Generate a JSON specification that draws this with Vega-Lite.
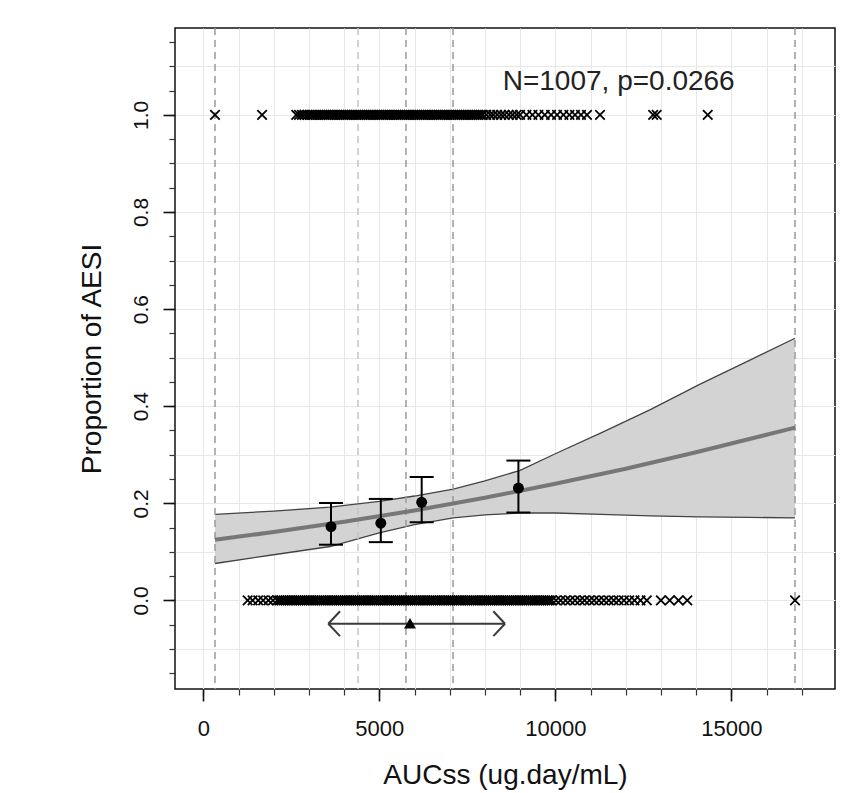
{
  "$schema": "https://vega.github.io/schema/vega-lite/v6.json",
  "width": 660,
  "height": 661,
  "autosize": {"type": "none"},
  "padding": {"left": 175, "top": 28, "right": 6, "bottom": 104},
  "background": "white",
  "config": {
    "view": {"stroke": "#111", "strokeWidth": 1.5},
    "font": "Liberation Sans",
    "axis": {"labelFont": "Liberation Sans", "titleFont": "Liberation Sans", "labelColor": "#111", "titleColor": "#111", "titleFontWeight": "normal", "tickColor": "#222", "domain": false, "labelFlush": false, "labelOverlap": false, "labelBound": false}
  },
  "datasets": {
    "band": [
      {"x": 332, "lo": 0.076, "hi": 0.177},
      {"x": 2000, "lo": 0.094, "hi": 0.184},
      {"x": 3600, "lo": 0.111, "hi": 0.192},
      {"x": 5000, "lo": 0.139, "hi": 0.204},
      {"x": 6000, "lo": 0.156, "hi": 0.215},
      {"x": 7100, "lo": 0.170, "hi": 0.229},
      {"x": 8000, "lo": 0.176, "hi": 0.246},
      {"x": 9000, "lo": 0.180, "hi": 0.268},
      {"x": 10000, "lo": 0.180, "hi": 0.302},
      {"x": 11300, "lo": 0.177, "hi": 0.345},
      {"x": 12700, "lo": 0.174, "hi": 0.393},
      {"x": 14100, "lo": 0.172, "hi": 0.445},
      {"x": 15500, "lo": 0.171, "hi": 0.494},
      {"x": 16810, "lo": 0.170, "hi": 0.540}
    ],
    "fit": [
      {"x": 332, "p": 0.125},
      {"x": 2000, "p": 0.1408},
      {"x": 4000, "p": 0.1618},
      {"x": 6000, "p": 0.1853},
      {"x": 8000, "p": 0.2114},
      {"x": 10000, "p": 0.2401},
      {"x": 12000, "p": 0.2713},
      {"x": 14000, "p": 0.3050},
      {"x": 16810, "p": 0.3559}
    ],
    "ref": [
      {"x": 332, "kind": "min"},
      {"x": 4395, "kind": "q1"},
      {"x": 5758, "kind": "median"},
      {"x": 7094, "kind": "q3"},
      {"x": 16810, "kind": "max"}
    ],
    "bins": [
      {"x": 3628, "y": 0.152, "lo": 0.1147, "hi": 0.2006},
      {"x": 5043, "y": 0.159, "lo": 0.120, "hi": 0.209},
      {"x": 6204, "y": 0.202, "lo": 0.161, "hi": 0.254},
      {"x": 8952, "y": 0.2315, "lo": 0.181, "hi": 0.288}
    ],
    "arrow": [
      {"x": 3551, "y": -0.048, "x2": 8571, "y2": -0.048},
      {"x": 3551, "y": -0.048, "x2": 3884, "y2": -0.0223},
      {"x": 3551, "y": -0.048, "x2": 3884, "y2": -0.0737},
      {"x": 8571, "y": -0.048, "x2": 8239, "y2": -0.0223},
      {"x": 8571, "y": -0.048, "x2": 8239, "y2": -0.0737}
    ],
    "tri": [{"x": 5872, "y": -0.047}],
    "note": [{"x": 8506, "y": 1.052, "label": "N=1007, p=0.0266"}],
    "strip": [
      {"x": 332, "y": 1}, {"x": 1670, "y": 1},
      {"x": 2640, "y": 1}, {"x": 2720, "y": 1}, {"x": 2800, "y": 1}, {"x": 2880, "y": 1}, {"x": 2960, "y": 1}, {"x": 3020, "y": 1}, {"x": 3080, "y": 1}, {"x": 3140, "y": 1}, {"x": 3200, "y": 1}, {"x": 3260, "y": 1}, {"x": 3320, "y": 1}, {"x": 3380, "y": 1}, {"x": 3440, "y": 1}, {"x": 3500, "y": 1}, {"x": 3560, "y": 1}, {"x": 3620, "y": 1}, {"x": 3680, "y": 1}, {"x": 3740, "y": 1}, {"x": 3800, "y": 1}, {"x": 3860, "y": 1}, {"x": 3920, "y": 1}, {"x": 3980, "y": 1}, {"x": 4040, "y": 1}, {"x": 4100, "y": 1}, {"x": 4160, "y": 1}, {"x": 4220, "y": 1}, {"x": 4280, "y": 1}, {"x": 4340, "y": 1}, {"x": 4400, "y": 1}, {"x": 4460, "y": 1}, {"x": 4520, "y": 1}, {"x": 4580, "y": 1}, {"x": 4640, "y": 1}, {"x": 4700, "y": 1}, {"x": 4760, "y": 1}, {"x": 4820, "y": 1}, {"x": 4880, "y": 1}, {"x": 4940, "y": 1}, {"x": 5000, "y": 1}, {"x": 5060, "y": 1}, {"x": 5120, "y": 1}, {"x": 5180, "y": 1}, {"x": 5240, "y": 1}, {"x": 5300, "y": 1}, {"x": 5360, "y": 1}, {"x": 5420, "y": 1}, {"x": 5480, "y": 1}, {"x": 5540, "y": 1}, {"x": 5600, "y": 1}, {"x": 5660, "y": 1}, {"x": 5720, "y": 1}, {"x": 5780, "y": 1}, {"x": 5840, "y": 1}, {"x": 5900, "y": 1}, {"x": 5960, "y": 1}, {"x": 6020, "y": 1}, {"x": 6080, "y": 1}, {"x": 6140, "y": 1}, {"x": 6200, "y": 1}, {"x": 6260, "y": 1}, {"x": 6320, "y": 1}, {"x": 6380, "y": 1}, {"x": 6440, "y": 1}, {"x": 6500, "y": 1}, {"x": 6560, "y": 1}, {"x": 6620, "y": 1}, {"x": 6680, "y": 1}, {"x": 6740, "y": 1}, {"x": 6800, "y": 1}, {"x": 6860, "y": 1}, {"x": 6920, "y": 1}, {"x": 6980, "y": 1}, {"x": 7040, "y": 1}, {"x": 7100, "y": 1}, {"x": 7160, "y": 1}, {"x": 7220, "y": 1}, {"x": 7280, "y": 1}, {"x": 7340, "y": 1}, {"x": 7400, "y": 1}, {"x": 7460, "y": 1}, {"x": 7520, "y": 1}, {"x": 7580, "y": 1}, {"x": 7640, "y": 1}, {"x": 7700, "y": 1}, {"x": 7760, "y": 1}, {"x": 7820, "y": 1}, {"x": 7880, "y": 1}, {"x": 7940, "y": 1},
      {"x": 8040, "y": 1}, {"x": 8150, "y": 1}, {"x": 8240, "y": 1}, {"x": 8350, "y": 1}, {"x": 8460, "y": 1}, {"x": 8560, "y": 1}, {"x": 8680, "y": 1}, {"x": 8790, "y": 1}, {"x": 8900, "y": 1}, {"x": 9000, "y": 1},
      {"x": 9180, "y": 1}, {"x": 9350, "y": 1}, {"x": 9520, "y": 1}, {"x": 9700, "y": 1}, {"x": 9880, "y": 1}, {"x": 10050, "y": 1}, {"x": 10230, "y": 1}, {"x": 10400, "y": 1}, {"x": 10560, "y": 1}, {"x": 10730, "y": 1}, {"x": 10900, "y": 1},
      {"x": 11270, "y": 1}, {"x": 12780, "y": 1}, {"x": 12880, "y": 1}, {"x": 14330, "y": 1},
      {"x": 1260, "y": 0}, {"x": 1400, "y": 0}, {"x": 1560, "y": 0}, {"x": 1700, "y": 0}, {"x": 1850, "y": 0}, {"x": 1980, "y": 0},
      {"x": 2100, "y": 0}, {"x": 2160, "y": 0}, {"x": 2220, "y": 0}, {"x": 2280, "y": 0}, {"x": 2340, "y": 0}, {"x": 2400, "y": 0}, {"x": 2460, "y": 0}, {"x": 2520, "y": 0}, {"x": 2580, "y": 0}, {"x": 2640, "y": 0}, {"x": 2700, "y": 0}, {"x": 2760, "y": 0}, {"x": 2820, "y": 0}, {"x": 2880, "y": 0}, {"x": 2940, "y": 0}, {"x": 3000, "y": 0}, {"x": 3060, "y": 0}, {"x": 3120, "y": 0}, {"x": 3180, "y": 0}, {"x": 3240, "y": 0}, {"x": 3300, "y": 0}, {"x": 3360, "y": 0}, {"x": 3420, "y": 0}, {"x": 3480, "y": 0}, {"x": 3540, "y": 0}, {"x": 3600, "y": 0}, {"x": 3660, "y": 0}, {"x": 3720, "y": 0}, {"x": 3780, "y": 0}, {"x": 3840, "y": 0}, {"x": 3900, "y": 0}, {"x": 3960, "y": 0}, {"x": 4020, "y": 0}, {"x": 4080, "y": 0}, {"x": 4140, "y": 0}, {"x": 4200, "y": 0}, {"x": 4260, "y": 0}, {"x": 4320, "y": 0}, {"x": 4380, "y": 0}, {"x": 4440, "y": 0}, {"x": 4500, "y": 0}, {"x": 4560, "y": 0}, {"x": 4620, "y": 0}, {"x": 4680, "y": 0}, {"x": 4740, "y": 0}, {"x": 4800, "y": 0}, {"x": 4860, "y": 0}, {"x": 4920, "y": 0}, {"x": 4980, "y": 0}, {"x": 5040, "y": 0}, {"x": 5100, "y": 0}, {"x": 5160, "y": 0}, {"x": 5220, "y": 0}, {"x": 5280, "y": 0}, {"x": 5340, "y": 0}, {"x": 5400, "y": 0}, {"x": 5460, "y": 0}, {"x": 5520, "y": 0}, {"x": 5580, "y": 0}, {"x": 5640, "y": 0}, {"x": 5700, "y": 0}, {"x": 5760, "y": 0}, {"x": 5820, "y": 0}, {"x": 5880, "y": 0}, {"x": 5940, "y": 0}, {"x": 6000, "y": 0}, {"x": 6060, "y": 0}, {"x": 6120, "y": 0}, {"x": 6180, "y": 0}, {"x": 6240, "y": 0}, {"x": 6300, "y": 0}, {"x": 6360, "y": 0}, {"x": 6420, "y": 0}, {"x": 6480, "y": 0}, {"x": 6540, "y": 0}, {"x": 6600, "y": 0}, {"x": 6660, "y": 0}, {"x": 6720, "y": 0}, {"x": 6780, "y": 0}, {"x": 6840, "y": 0}, {"x": 6900, "y": 0}, {"x": 6960, "y": 0}, {"x": 7020, "y": 0}, {"x": 7080, "y": 0}, {"x": 7140, "y": 0}, {"x": 7200, "y": 0}, {"x": 7260, "y": 0}, {"x": 7320, "y": 0}, {"x": 7380, "y": 0}, {"x": 7440, "y": 0}, {"x": 7500, "y": 0}, {"x": 7560, "y": 0}, {"x": 7620, "y": 0}, {"x": 7680, "y": 0}, {"x": 7740, "y": 0}, {"x": 7800, "y": 0}, {"x": 7860, "y": 0}, {"x": 7920, "y": 0}, {"x": 7980, "y": 0}, {"x": 8040, "y": 0}, {"x": 8100, "y": 0}, {"x": 8160, "y": 0}, {"x": 8220, "y": 0}, {"x": 8280, "y": 0}, {"x": 8340, "y": 0}, {"x": 8400, "y": 0}, {"x": 8460, "y": 0}, {"x": 8520, "y": 0}, {"x": 8580, "y": 0}, {"x": 8640, "y": 0}, {"x": 8700, "y": 0}, {"x": 8760, "y": 0}, {"x": 8820, "y": 0}, {"x": 8880, "y": 0}, {"x": 8940, "y": 0}, {"x": 9000, "y": 0}, {"x": 9060, "y": 0}, {"x": 9120, "y": 0}, {"x": 9180, "y": 0}, {"x": 9240, "y": 0}, {"x": 9300, "y": 0}, {"x": 9360, "y": 0}, {"x": 9420, "y": 0}, {"x": 9480, "y": 0}, {"x": 9540, "y": 0}, {"x": 9600, "y": 0}, {"x": 9660, "y": 0}, {"x": 9720, "y": 0}, {"x": 9780, "y": 0}, {"x": 9840, "y": 0}, {"x": 9900, "y": 0},
      {"x": 10020, "y": 0}, {"x": 10150, "y": 0}, {"x": 10290, "y": 0}, {"x": 10420, "y": 0}, {"x": 10560, "y": 0}, {"x": 10700, "y": 0}, {"x": 10830, "y": 0}, {"x": 10970, "y": 0}, {"x": 11100, "y": 0}, {"x": 11240, "y": 0}, {"x": 11380, "y": 0}, {"x": 11520, "y": 0}, {"x": 11660, "y": 0}, {"x": 11800, "y": 0}, {"x": 11950, "y": 0}, {"x": 12100, "y": 0}, {"x": 12250, "y": 0}, {"x": 12420, "y": 0}, {"x": 12600, "y": 0},
      {"x": 13000, "y": 0}, {"x": 13250, "y": 0}, {"x": 13500, "y": 0}, {"x": 13750, "y": 0},
      {"x": 16810, "y": 0}
    ]
  },
  "layer": [
    {
      "data": {"name": "band"},
      "mark": {"type": "area", "color": "#d3d3d3", "opacity": 1},
      "encoding": {
        "x": {"field": "x", "type": "quantitative", "scale": {"domain": [-804, 17946], "nice": false, "zero": false},
          "axis": {"orient": "bottom", "values": [0, 1000, 2000, 3000, 4000, 5000, 6000, 7000, 8000, 9000, 10000, 11000, 12000, 13000, 14000, 15000, 16000, 17000], "labels": false, "ticks": true, "tickSize": 6, "tickWidth": 1.2, "tickColor": "#333", "grid": true, "gridColor": "#e8e8e8", "gridWidth": 1, "title": null}},
        "y": {"field": "lo", "type": "quantitative", "scale": {"domain": [-0.1825, 1.179], "nice": false, "zero": false},
          "axis": {"orient": "left", "values": [-0.1, 0, 0.1, 0.2, 0.3, 0.4, 0.5, 0.6, 0.7, 0.8, 0.9, 1.0, 1.1], "labels": false, "ticks": false, "grid": true, "gridColor": "#e8e8e8", "gridWidth": 1, "title": null}},
        "y2": {"field": "hi"}
      }
    },
    {
      "data": {"name": "band"},
      "mark": {"type": "line", "color": "#444", "strokeWidth": 1.3},
      "encoding": {
        "x": {"field": "x", "type": "quantitative", "scale": {"domain": [-804, 17946], "nice": false, "zero": false}, "axis": null},
        "y": {"field": "hi", "type": "quantitative", "scale": {"domain": [-0.1825, 1.179], "nice": false, "zero": false}, "axis": null}
      }
    },
    {
      "data": {"name": "band"},
      "mark": {"type": "line", "color": "#444", "strokeWidth": 1.3},
      "encoding": {
        "x": {"field": "x", "type": "quantitative", "scale": {"domain": [-804, 17946], "nice": false, "zero": false}, "axis": null},
        "y": {"field": "lo", "type": "quantitative", "scale": {"domain": [-0.1825, 1.179], "nice": false, "zero": false}, "axis": null}
      }
    },
    {
      "data": {"name": "ref"},
      "mark": {"type": "rule", "strokeDash": [7, 5], "strokeWidth": 1.5},
      "encoding": {
        "x": {"field": "x", "type": "quantitative", "scale": {"domain": [-804, 17946], "nice": false, "zero": false}, "axis": null},
        "color": {"field": "kind", "type": "nominal", "legend": null, "scale": {"domain": ["min", "q1", "median", "q3", "max"], "range": ["#9a9a9a", "#c4c4c4", "#9a9a9a", "#9a9a9a", "#9a9a9a"]}}
      }
    },
    {
      "data": {"name": "fit"},
      "mark": {"type": "line", "color": "#777", "strokeWidth": 4},
      "encoding": {
        "x": {"field": "x", "type": "quantitative", "scale": {"domain": [-804, 17946], "nice": false, "zero": false},
          "axis": {"orient": "bottom", "values": [0, 5000, 10000, 15000], "format": "d", "tickSize": 12, "tickWidth": 1.6, "tickColor": "#111", "labelFontSize": 22, "labelPadding": 17, "labelBaseline": "top", "labelAlign": "center", "grid": false, "title": "AUCss (ug.day/mL)", "titleFontSize": 28, "titleX": 330, "titleY": 94, "titleBaseline": "alphabetic", "titleAlign": "center"}},
        "y": {"field": "p", "type": "quantitative", "scale": {"domain": [-0.1825, 1.179], "nice": false, "zero": false},
          "axis": {"orient": "left", "values": [-0.15, -0.1, -0.05, 0, 0.05, 0.1, 0.15, 0.2, 0.25, 0.3, 0.35, 0.4, 0.45, 0.5, 0.55, 0.6, 0.65, 0.7, 0.75, 0.8, 0.85, 0.9, 0.95, 1.0, 1.05, 1.1, 1.15], "labels": false, "ticks": true, "tickSize": 6, "tickWidth": 1.2, "tickColor": "#333", "grid": false, "title": null}}
      }
    },
    {
      "data": {"name": "strip"},
      "mark": {"type": "point", "shape": "M-1,-1L1,1M-1,1L1,-1", "filled": false, "stroke": "#000", "strokeWidth": 1.8, "size": 90, "opacity": 1},
      "encoding": {
        "x": {"field": "x", "type": "quantitative", "scale": {"domain": [-804, 17946], "nice": false, "zero": false}, "axis": null},
        "y": {"field": "y", "type": "quantitative", "scale": {"domain": [-0.1825, 1.179], "nice": false, "zero": false},
          "axis": {"orient": "left", "values": [0, 0.2, 0.4, 0.6, 0.8, 1.0], "format": ".1f", "tickSize": 12, "tickWidth": 1.6, "tickColor": "#111", "labelFontSize": 21, "labelAngle": 270, "labelAlign": "center", "labelBaseline": "bottom", "labelPadding": 12, "grid": false, "title": "Proportion of AESI", "titleFontSize": 28, "titleAngle": 270, "titleX": -75, "titleY": 330.5, "titleBaseline": "alphabetic", "titleAlign": "center"}}
      }
    },
    {
      "data": {"name": "bins"},
      "mark": {"type": "rule", "color": "#000", "strokeWidth": 2},
      "encoding": {
        "x": {"field": "x", "type": "quantitative", "scale": {"domain": [-804, 17946], "nice": false, "zero": false}, "axis": null},
        "y": {"field": "lo", "type": "quantitative", "scale": {"domain": [-0.1825, 1.179], "nice": false, "zero": false}, "axis": null},
        "y2": {"field": "hi"}
      }
    },
    {
      "data": {"name": "bins"},
      "mark": {"type": "tick", "orient": "horizontal", "size": 24, "thickness": 2, "color": "#000", "opacity": 1},
      "encoding": {
        "x": {"field": "x", "type": "quantitative", "scale": {"domain": [-804, 17946], "nice": false, "zero": false}, "axis": null},
        "y": {"field": "lo", "type": "quantitative", "scale": {"domain": [-0.1825, 1.179], "nice": false, "zero": false}, "axis": null}
      }
    },
    {
      "data": {"name": "bins"},
      "mark": {"type": "tick", "orient": "horizontal", "size": 24, "thickness": 2, "color": "#000", "opacity": 1},
      "encoding": {
        "x": {"field": "x", "type": "quantitative", "scale": {"domain": [-804, 17946], "nice": false, "zero": false}, "axis": null},
        "y": {"field": "hi", "type": "quantitative", "scale": {"domain": [-0.1825, 1.179], "nice": false, "zero": false}, "axis": null}
      }
    },
    {
      "data": {"name": "bins"},
      "mark": {"type": "circle", "color": "#000", "size": 120, "opacity": 1},
      "encoding": {
        "x": {"field": "x", "type": "quantitative", "scale": {"domain": [-804, 17946], "nice": false, "zero": false}, "axis": null},
        "y": {"field": "y", "type": "quantitative", "scale": {"domain": [-0.1825, 1.179], "nice": false, "zero": false}, "axis": null}
      }
    },
    {
      "data": {"name": "arrow"},
      "mark": {"type": "rule", "color": "#3a3a3a", "strokeWidth": 2},
      "encoding": {
        "x": {"field": "x", "type": "quantitative", "scale": {"domain": [-804, 17946], "nice": false, "zero": false}, "axis": null},
        "y": {"field": "y", "type": "quantitative", "scale": {"domain": [-0.1825, 1.179], "nice": false, "zero": false}, "axis": null},
        "x2": {"field": "x2"},
        "y2": {"field": "y2"}
      }
    },
    {
      "data": {"name": "tri"},
      "mark": {"type": "point", "shape": "triangle-up", "filled": true, "color": "#000", "size": 144, "opacity": 1},
      "encoding": {
        "x": {"field": "x", "type": "quantitative", "scale": {"domain": [-804, 17946], "nice": false, "zero": false}, "axis": null},
        "y": {"field": "y", "type": "quantitative", "scale": {"domain": [-0.1825, 1.179], "nice": false, "zero": false}, "axis": null}
      }
    },
    {
      "data": {"name": "note"},
      "mark": {"type": "text", "align": "left", "baseline": "alphabetic", "fontSize": 28, "font": "Liberation Sans", "color": "#222"},
      "encoding": {
        "x": {"field": "x", "type": "quantitative", "scale": {"domain": [-804, 17946], "nice": false, "zero": false}, "axis": null},
        "y": {"field": "y", "type": "quantitative", "scale": {"domain": [-0.1825, 1.179], "nice": false, "zero": false}, "axis": null},
        "text": {"field": "label"}
      }
    }
  ],
  "resolve": {"axis": {"x": "independent", "y": "independent"}}
}
